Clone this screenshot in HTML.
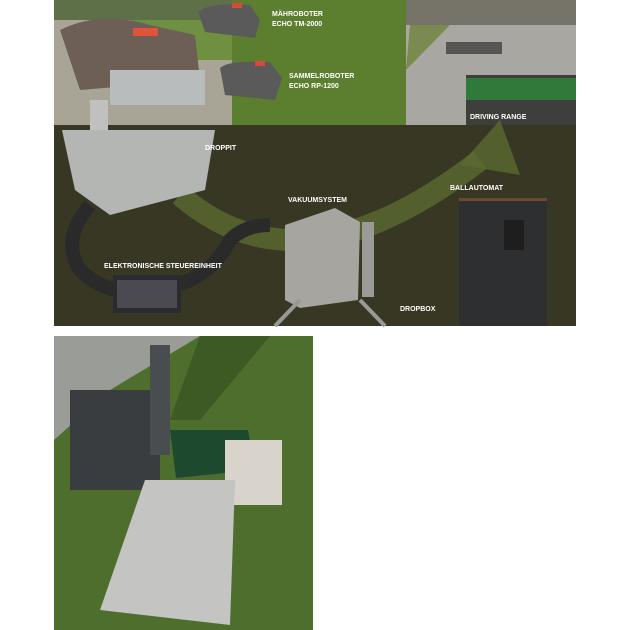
<!DOCTYPE html>
<html><head><meta charset="utf-8"><style>
body{margin:0;background:#fff;width:630px;height:630px;overflow:hidden}
svg{display:block}
text{font-family:"Liberation Sans",sans-serif;font-weight:bold;fill:#fff;font-size:7px}
</style></head><body>
<svg width="630" height="630" viewBox="0 0 630 630">
<rect width="630" height="630" fill="#fff"/>
<!-- top composite -->
<rect x="54" y="0" width="522" height="326" fill="#383723"/>
<!-- left photo -->
<rect x="54" y="0" width="178" height="125" fill="#a8a596"/>
<rect x="54" y="0" width="178" height="20" fill="#5e7048"/>
<rect x="130" y="20" width="102" height="40" fill="#6e9040"/>
<path d="M60 30 Q100 10 150 25 L195 35 L200 80 L80 90 Z" fill="#6e5f56"/>
<rect x="110" y="70" width="95" height="35" fill="#b8bcbc"/>
<rect x="133" y="28" width="25" height="8" fill="#e0553a"/>
<!-- green panel -->
<rect x="232" y="0" width="174" height="125" fill="#5b7f2e"/>
<path d="M198 12 Q210 2 250 5 L260 20 L255 38 L205 32 Z" fill="#5a5a5a"/>
<rect x="232" y="3" width="10" height="5" fill="#d9483a"/>
<path d="M220 68 Q228 60 270 62 L282 78 L275 100 L225 95 Z" fill="#5a5a5a"/>
<rect x="255" y="61" width="10" height="5" fill="#d9483a"/>
<text x="272" y="16">MÄHROBOTER</text><text x="272" y="26">ECHO TM-2000</text>
<text x="289" y="78">SAMMELROBOTER</text><text x="289" y="88">ECHO RP-1200</text>
<!-- right photo -->
<rect x="406" y="0" width="170" height="125" fill="#a9a7a1"/>
<rect x="406" y="0" width="170" height="25" fill="#767468"/>
<polygon points="410,25 450,25 406,70" fill="#7a8a50"/>
<rect x="446" y="42" width="56" height="12" fill="#555"/>
<rect x="466" y="75" width="110" height="50" fill="#3e3e3c"/>
<rect x="466" y="78" width="110" height="22" fill="#2f7a3a"/>
<text x="470" y="119">DRIVING RANGE</text>
<!-- arrow -->
<path d="M180 195 Q300 300 480 160" stroke="#5a6a30" stroke-width="22" fill="none" opacity="0.8"/>
<polygon points="460,165 500,120 520,175" fill="#5a6a30" opacity="0.8"/>
<!-- droppit -->
<polygon points="62,130 215,130 205,190 110,215 75,190" fill="#b4b6b4"/>
<rect x="90" y="100" width="18" height="30" fill="#c0c0c0"/>
<text x="205" y="150">DROPPIT</text>
<!-- hose -->
<path d="M90 205 Q60 240 80 270 Q110 300 160 290 Q210 280 230 240 Q245 225 270 225" stroke="#2a2a2a" stroke-width="14" fill="none"/>
<rect x="113" y="275" width="68" height="38" fill="#2a2a30"/>
<rect x="117" y="280" width="60" height="28" fill="#4a4a50"/>
<text x="104" y="268">ELEKTRONISCHE STEUEREINHEIT</text>
<!-- vakuum -->
<polygon points="285,225 335,208 360,222 358,300 300,308 285,300" fill="#a7a5a0"/>
<rect x="362" y="222" width="12" height="75" fill="#9a9a96"/>
<path d="M275 326 L300 300 M360 300 L385 326" stroke="#999" stroke-width="4"/>
<text x="288" y="202">VAKUUMSYSTEM</text>
<text x="400" y="311">DROPBOX</text>
<!-- ballautomat -->
<rect x="459" y="198" width="88" height="128" fill="#2d2f30"/>
<rect x="459" y="198" width="88" height="3" fill="#6a4a30"/>
<rect x="504" y="220" width="20" height="30" fill="#1e1e1e"/>
<text x="450" y="190">BALLAUTOMAT</text>
<!-- bottom photo -->
<rect x="54" y="336" width="259" height="294" fill="#4e6e2e"/>
<polygon points="54,336 200,336 160,360 110,390 54,440" fill="#9a9c98"/>
<polygon points="200,336 270,336 200,420 170,420" fill="#3d5a25"/>
<rect x="70" y="390" width="90" height="100" fill="#3a3d40"/>
<rect x="150" y="345" width="20" height="110" fill="#4a4d50"/>
<polygon points="170,430 248,430 255,470 176,478" fill="#1d4a2e"/>
<polygon points="225,440 282,440 282,505 225,505" fill="#d8d4cc"/>
<polygon points="145,480 235,480 230,625 100,610" fill="#c4c4c2"/>
</svg>
</body></html>
